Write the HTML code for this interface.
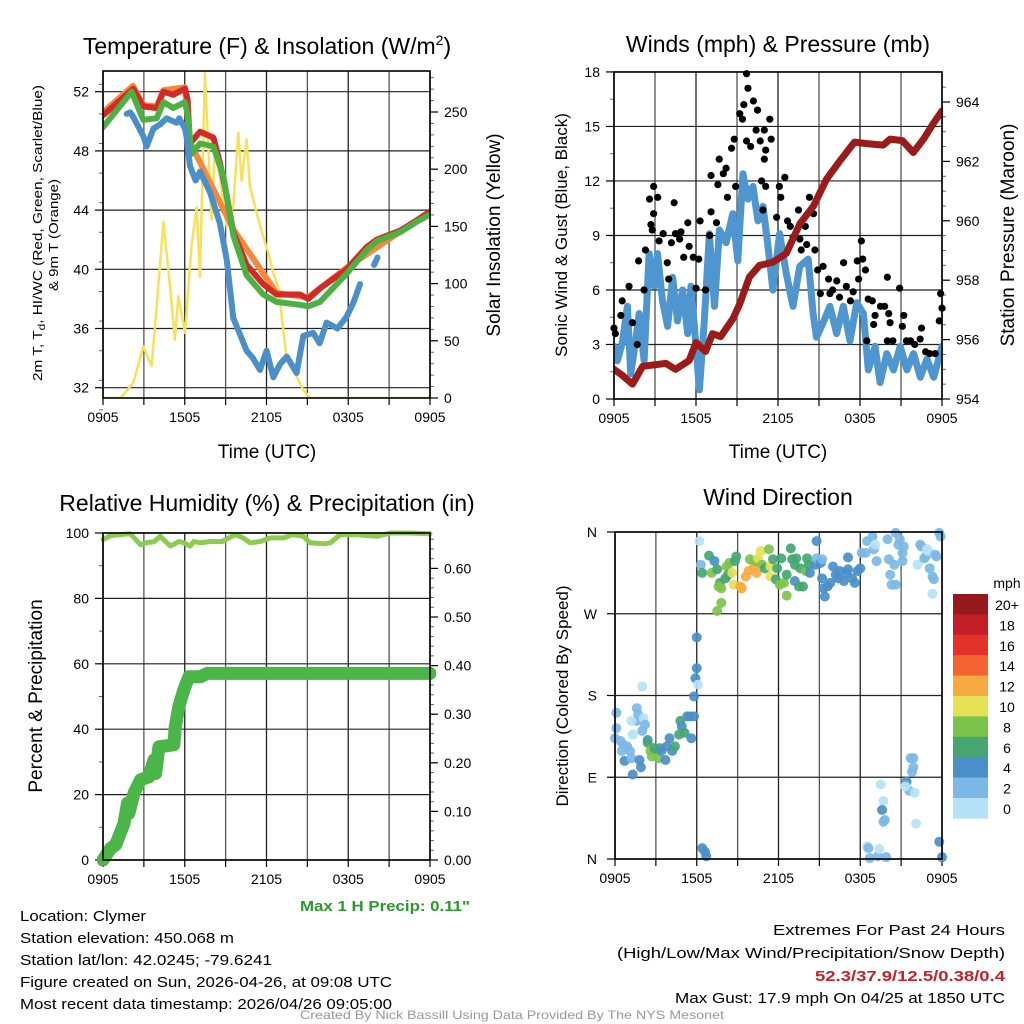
<!DOCTYPE html>
<html><head><meta charset="utf-8"><style>
html,body{margin:0;padding:0;background:#fff;}
svg{display:block;font-family:"Liberation Sans",Arial,sans-serif;}
</style></head><body>
<svg id="chart" width="1024" height="1024" viewBox="0 0 1024 1024" xmlns="http://www.w3.org/2000/svg">
<rect width="1024" height="1024" fill="#fff"/>
<defs>
<clipPath id="c1"><rect x="103" y="71" width="327" height="327"/></clipPath>
<clipPath id="c2"><rect x="614" y="66" width="328" height="337"/></clipPath>
<clipPath id="c3"><rect x="97" y="527" width="339" height="339"/></clipPath>
</defs>
<g id="texts" font-size="15" fill="#000">
<text x="267" y="54" font-size="23" text-anchor="middle">Temperature (F) &amp; Insolation (W/m<tspan dy="-9" font-size="14">2</tspan><tspan dy="9">)</tspan></text>
<text x="778" y="52" font-size="23" text-anchor="middle">Winds (mph) &amp; Pressure (mb)</text>
<text x="267" y="511" font-size="23" text-anchor="middle">Relative Humidity (%) &amp; Precipitation (in)</text>
<text x="778" y="505" font-size="23" text-anchor="middle">Wind Direction</text>
<text x="267" y="458" font-size="19" text-anchor="middle">Time (UTC)</text>
<text x="778" y="458" font-size="19" text-anchor="middle">Time (UTC)</text>
<text transform="translate(42,233) rotate(-90)" font-size="13" text-anchor="middle" textLength="296" lengthAdjust="spacingAndGlyphs">2m T, T<tspan dy="3" font-size="10">d</tspan><tspan dy="-3">, HI/WC (Red, Green, Scarlet/Blue)</tspan></text>
<text transform="translate(58,235) rotate(-90)" font-size="13" text-anchor="middle" textLength="112" lengthAdjust="spacingAndGlyphs">&amp; 9m T (Orange)</text>
<text transform="translate(500,235) rotate(-90)" font-size="19" text-anchor="middle">Solar Insolation (Yellow)</text>
<text transform="translate(567,235) rotate(-90)" font-size="17" text-anchor="middle">Sonic Wind &amp; Gust (Blue, Black)</text>
<text transform="translate(1014,235) rotate(-90)" font-size="19" text-anchor="middle">Station Pressure (Maroon)</text>
<text transform="translate(42,696) rotate(-90)" font-size="19" text-anchor="middle">Percent &amp; Precipitation</text>
<text transform="translate(568,696) rotate(-90)" font-size="17" text-anchor="middle">Direction (Colored By Speed)</text>
<text x="470" y="911" font-size="15" font-weight="bold" fill="#2a9a2a" text-anchor="end" textLength="170" lengthAdjust="spacingAndGlyphs">Max 1 H Precip: 0.11"</text>
<text x="20" y="921" textLength="126" lengthAdjust="spacingAndGlyphs">Location: Clymer</text>
<text x="20" y="943" textLength="214" lengthAdjust="spacingAndGlyphs">Station elevation: 450.068 m</text>
<text x="20" y="965" textLength="252" lengthAdjust="spacingAndGlyphs">Station lat/lon: 42.0245; -79.6241</text>
<text x="20" y="987" textLength="372" lengthAdjust="spacingAndGlyphs">Figure created on Sun, 2026-04-26, at 09:08 UTC</text>
<text x="20" y="1009" textLength="372" lengthAdjust="spacingAndGlyphs">Most recent data timestamp: 2026/04/26 09:05:00</text>
<text x="1005" y="935" text-anchor="end" textLength="232" lengthAdjust="spacingAndGlyphs">Extremes For Past 24 Hours</text>
<text x="1005" y="958" text-anchor="end" textLength="388" lengthAdjust="spacingAndGlyphs">(High/Low/Max Wind/Precipitation/Snow Depth)</text>
<text x="1005" y="981" text-anchor="end" font-weight="bold" fill="#c8202a" textLength="190" lengthAdjust="spacingAndGlyphs">52.3/37.9/12.5/0.38/0.4</text>
<text x="1005" y="1003" text-anchor="end" textLength="330" lengthAdjust="spacingAndGlyphs">Max Gust: 17.9 mph On 04/25 at 1850 UTC</text>
<text x="512" y="1019" font-size="12" fill="#999" text-anchor="middle" textLength="424" lengthAdjust="spacingAndGlyphs">Created By Nick Bassill Using Data Provided By The NYS Mesonet</text>
</g>
</svg>
<script>
// ---------- DATA ----------
const xTickLabels = ["0905","1505","2105","0305","0905"];
const tempRedH = [0,2.22,2.96,3.94,4.43,5.16,6.02,6.2,6.38,7.12,8.1,8.58,9.07,9.56,10.54,11.76,12.74,14.45,15.06,15.92,17.88,19.35,20.08,21.79,23.0,24];
const tempRedV = [50.4,52.2,51,50.9,52,51.8,52.2,51.5,48.5,49.3,48.9,47.2,45,42.5,40.3,39,38.3,38.3,38.0,38.7,40,41.5,42,42.6,43.3,43.9];
const tempOrangeH = [0,2.2,2.96,3.94,4.43,6.02,6.38,9.56,12.74,15.06,17.88,24];
const tempOrangeV = [50.6,52.4,51.1,51.0,52.1,52.3,48.6,42.7,38.4,38.1,40.1,43.9];
const tempGreenH = [0,2.1,2.96,3.94,4.43,5.16,6.02,6.2,6.5,7.12,8.1,8.83,9.56,10.54,11.76,12.74,14.45,15.06,15.92,17.88,19.35,20.08,21.79,23.0,24];
const tempGreenV = [49.6,52,50.1,50.2,51.3,50.9,51.3,50.5,47.8,48.5,48.3,46.3,42.3,39.6,38.3,37.8,37.6,37.5,37.8,39.7,41.3,41.9,42.5,43.2,43.7];
const dewH = [1.74,2.0,2.22,2.96,3.2,3.7,4.2,4.67,5.4,5.6,6.02,6.14,6.38,6.8,7.12,7.85,8.58,9.07,9.56,10.1,10.54,11.0,11.52,12.01,12.5,13.0,13.48,14.21,14.7,15.43,15.9,16.41,17.2,17.88,18.4,18.86];
const dewV = [50.5,50.6,50.3,49,48.3,49.5,49.8,50.2,49.9,50.2,49.5,48.9,47,46.0,46.6,45.2,43.1,40.7,36.7,35.5,34.5,34.0,33.2,34.5,32.7,33.6,34.1,33,35.5,35.7,35.0,36.4,36.0,36.8,37.8,39];
const dew2H = [19.9,20.15];
const dew2V = [40.3,40.8];
const solarH = [0,1.3,1.49,2.22,2.96,3.57,3.94,4.43,4.92,5.28,5.53,6.02,6.5,6.87,7.12,7.48,7.73,7.97,8.2,8.58,9.07,9.56,9.93,10.17,10.54,10.78,11.27,11.76,12.13,12.5,12.86,13.48,13.96,14.7,15.19,24];
const solarV = [0,0,3,13,45,28,80,154,98,51,89,57,133,167,106,284,220,156,215,194,150,168,232,190,226,185,162,141,127,109,98,34,25,7,0,0];

const windH = [0,0.24,0.61,0.98,1.22,1.59,1.84,2.2,2.57,2.94,3.18,3.55,3.92,4.29,4.65,5.02,5.39,5.63,5.88,6.25,6.61,6.98,7.35,7.71,8.2,8.69,9.06,9.43,9.8,10.16,10.53,10.9,11.27,11.63,12.12,12.61,13.1,13.59,14.21,14.57,14.82,15.31,15.8,16.29,16.78,17.27,17.76,18.25,18.61,19.1,19.47,19.96,20.45,20.94,21.43,21.92,22.41,22.9,23.39,24];
const windV = [2.9,2.1,3.1,5.1,1.4,3.2,4.7,2.1,8.0,6.2,8,5.4,4.0,6.7,4.3,6,3.6,6.2,4,0.5,4.3,9.1,5.1,9.3,8.6,10.2,7.6,12.4,11,11.7,9.8,10.6,8.4,6,9.1,6.9,5.1,7.3,7.7,4.7,3.4,4.2,5.1,3.6,5.1,3.2,5.3,4.7,1.6,2.9,0.9,2.5,1.6,2.9,1.6,2.5,1.2,2.2,1.2,2.9];
const gustH = [0,0.1,0.6,0.5,1.1,1.35,1.7,1.8,2.2,2.3,2.6,2.9,3.2,2.9,2.7,2.8,3.3,3.6,3.9,4.0,4.2,4.4,4.5,4.8,4.9,5.1,5.4,5.5,5.8,6.0,6.2,6.3,6.7,7.0,7.1,7.5,7.6,7.1,7.7,8.0,8.2,8.6,8.3,8.8,8.9,9.2,9.4,9.5,9.8,9.7,9.7,10.0,10.2,10.4,10.5,10.7,11.0,11.4,11.1,11.0,10.8,11.1,11.5,10.9,11.9,12.1,12.2,12.5,12.7,12.9,13.1,13.5,13.6,13.7,14.0,14.3,14.1,14.6,14.7,14.9,15.1,15.3,15.7,15.8,16.0,16.3,16.5,16.8,17.0,17.3,17.5,17.8,17.9,18.1,18.2,18.4,18.6,18.9,19.0,19.1,19.5,19.8,20.0,20.1,20.2,20.4,20.9,21.1,21.2,21.4,21.7,22.0,22.4,22.5,22.8,23.1,23.5,23.8,23.9,24.0,20.0,18.5];
const gustV = [3.9,3.6,5.4,4.6,6.2,4.2,3.0,7.6,6.0,8.2,11.0,11.7,11.1,10.2,9.6,9.3,8.7,9.1,7.5,6.6,8.6,10.8,9.1,8.8,9.2,7.8,9.7,8.4,7.8,6.1,7.7,9.8,6.0,9.0,10.3,9.7,11.8,12.3,13.2,12.4,12.7,13.8,11.1,14.3,11.7,15.7,15.4,16.2,17.1,17.9,14.2,13.9,16.4,14.8,15.9,14.2,14.8,15.4,13.7,13.2,12.0,11.7,14.3,10.4,10.0,11.7,11.1,12.2,9.8,9.5,8.9,10.4,8.8,8.2,9.5,11.1,8.5,10.2,8.2,7.1,5.8,7.3,6.6,5.8,6.0,6.5,5.6,7.5,6.2,5.4,5.9,7.6,6.6,8.7,7.7,7.1,5.5,5.4,4.1,4.6,5.1,5.1,6.7,4.7,4.2,3.2,6.1,4.0,4.6,3.2,3.2,3.0,3.3,3.9,2.6,2.5,2.5,4.3,5.8,5.0,3.2,3.2];
const presH = [0,0.6,1.35,2.1,3.8,4.5,5.5,6,6.7,7.2,7.8,8.7,9.2,9.9,10.65,11.6,12.6,13.6,14.6,15.55,16.5,17.6,18.5,19.7,20.2,21.1,21.9,22.65,23.4,24];
const presV = [955.0,954.8,954.5,955.1,955.2,955.0,955.3,955.9,955.6,956.2,956.1,956.7,957.2,958.1,958.5,958.6,958.9,959.9,960.5,961.4,962.0,962.65,962.6,962.55,962.75,962.7,962.3,962.75,963.3,963.7];

const rhH = [0,0.56,2.0,2.76,3.25,3.74,4.2,4.95,5.57,5.93,6.4,6.66,7.15,7.9,8.74,9.7,10.3,10.8,11.55,12.3,13.26,13.9,14.7,15.2,16.2,16.7,17.4,18.6,20.1,21.1,22.5,24];
const rhV = [98,99.2,99.8,96.4,97.1,97.3,99,96,97.4,97,96,97.4,97,97.4,97.4,99.5,98.5,97,97.4,98.5,98.5,99.5,99,97,96.7,97,99.5,99.5,99,100,100,99.8];
const precipH = [0,0.56,0.93,1.54,1.8,1.9,2.27,2.76,3.37,3.74,3.86,4.1,5.2,5.3,5.57,5.93,6.3,7.15,7.64,24];
const precipV = [0,0.024,0.031,0.075,0.117,0.096,0.137,0.165,0.171,0.206,0.178,0.233,0.237,0.274,0.316,0.35,0.377,0.377,0.384,0.384];

const dirH = [0.1,0.1,0.0,0.4,0.6,0.9,0.5,1.1,0.7,1.3,1.2,1.6,1.7,1.6,2.1,1.3,1.2,2.0,2.2,2.0,1.8,1.9,2.4,2.4,2.6,2.7,2.9,3.2,3.3,3.4,3.7,3.8,4.0,4.2,4.4,4.7,4.8,4.9,5.1,5.3,5.5,5.6,5.8,5.8,5.9,6.0,6.0,6.1,
6.4,6.6,6.7,
6.2,6.3,6.4,6.9,7.3,7.1,7.5,7.7,7.6,7.8,7.8,7.5,8.1,8.2,8.4,8.3,8.6,8.7,8.8,8.9,9.2,9.3,9.6,9.8,10.2,10.4,9.9,10.3,10.5,10.7,10.8,11.0,11.3,11.4,11.4,11.6,11.8,11.9,12.2,12.1,12.4,12.6,12.6,12.9,13.0,13.2,13.2,13.3,13.6,13.5,13.8,14.0,14.2,14.1,14.3,14.7,14.8,14.8,15.1,15.2,15.2,15.3,15.4,15.6,15.8,16.0,16.2,16.4,16.5,16.8,17.0,17.1,17.4,17.6,17.8,18.0,17.1,18.1,18.4,18.5,18.9,19.0,19.1,19.2,20.0,20.1,20.2,20.3,20.6,20.5,20.6,20.8,20.9,21.1,21.1,21.2,22.2,22.4,22.5,22.7,22.8,22.9,23.0,23.1,23.3,23.4,23.3,23.6,23.8,23.9,23.5,
19.5,19.7,19.6,19.8,19.7,18.5,18.6,18.7,19.3,19.4,19.9,21.7,21.9,21.9,21.8,21.4,21.6,22.0,21.3,22.1,23.8,24.0];
const dirDeg = [161,144,133,130,126,124,119,119,108,93,111,166,159,152,155,137,152,141,148,190,109,101,131,128,119,113,122,111,122,119,109,124,133,119,124,137,152,146,139,157,157,133,157,179,199,210,244,192,
12,8,3,
350,324,315,334,328,315,319,304,300,298,282,273,309,322,326,313,315,302,328,333,300,298,311,317,322,315,330,328,331,339,324,320,341,322,311,330,308,320,331,302,304,290,313,342,330,324,306,331,320,300,300,317,324,331,315,324,331,350,326,330,309,298,289,300,304,322,313,309,317,306,315,319,309,304,317,320,332,337,337,350,355,341,346,328,352,330,313,302,302,324,359,346,352,337,328,344,324,346,344,331,333,341,339,320,311,308,292,333,359,355,335,
82,64,54,43,41,14,12,1,3,11,2,111,111,101,96,85,75,73,80,39,19,2];
const dirSpeed = [3,3,3,3,3,3,3,3,5,5,3,3,3,3,1,1,1,3,3,1,5,5,5,7,9,9,7,9,7,5,5,5,5,5,7,7,7,5,7,5,5,5,5,5,5,5,5,1,
5,5,5,
1,3,7,7,5,9,7,7,9,9,9,9,7,9,9,7,11,11,7,7,13,13,13,13,13,13,9,9,11,11,9,7,9,11,11,7,7,7,7,9,9,9,7,7,7,7,5,7,7,7,7,9,7,7,5,5,3,5,5,3,5,5,5,5,5,5,5,5,5,5,5,5,5,5,5,5,5,3,3,3,3,3,1,3,3,3,3,3,3,3,3,3,3,3,3,3,1,3,3,3,3,1,1,3,3,3,1,3,3,3,3,
1,1,5,3,3,1,3,3,3,1,3,3,3,3,3,5,3,1,1,1,5,5];
const speedBinLabels = ["0","2","4","6","8","10","12","14","16","18","20+"];
const speedBinColors = ["#b6e2f7","#7cb9e6","#4a8fc8","#46a672","#7cc34b","#e6e157","#f8a940","#f26430","#e2322a","#c21f26","#961a1c"];

// ---------- RENDER ----------
const NS="http://www.w3.org/2000/svg";
const svg=document.getElementById('chart');
function mk(tag,attrs,parent){const e=document.createElementNS(NS,tag);for(const k in attrs)e.setAttribute(k,attrs[k]);(parent||svg).appendChild(e);return e;}
const P1={x0:103,x1:430,y0:71,y1:398}, P2={x0:614,x1:942,y0:72,y1:399}, P3={x0:103,x1:430,y0:533,y1:860}, P4={x0:615,x1:942,y0:532,y1:859};
function hx(P,h){return P.x0+h*(P.x1-P.x0)/24;}
const yTemp=v=>387.7-(v-32)*14.8;
const ySolar=v=>398-v*1.144;
const yMph=v=>399-v*18.17;
const yMb=v=>399-(v-954)*29.7;
const yPct=v=>860-v*3.27;
const yIn=v=>860-v*486;
const yDeg=v=>859-v*327/360;

function frame(P,name){
  const g=mk('g',{});
  
  
  for(let i=0;i<=8;i++){const x=P.x0+i*(P.x1-P.x0)/8;
    const l=mk('line',{x1:x,x2:x,y1:P.y0,y2:P.y1,stroke:(i%2? '#555':'#222'),'stroke-width':1.3},g);
    
    const t=mk('line',{x1:x,x2:x,y1:P.y1,y2:P.y1+7,stroke:'#000','stroke-width':1.2},g);
    
  }
  xTickLabels.forEach((lab,i)=>{const x=P.x0+i*(P.x1-P.x0)/4;
    const t=mk('text',{x:x,y:P.y1+24,'font-size':14,'text-anchor':'middle'});t.textContent=lab;
    });
  return g;
}
function hgrid(yvals,P){yvals.forEach(y=>{const l=mk('line',{x1:P.x0,x2:P.x1,y1:y,y2:y,stroke:'#222','stroke-width':1.2});
  });}
function yAxis(P,side,vals,fy,fmt,minor,fyMinorVals){
  const x=side==='left'?P.x0:P.x1, d=side==='left'?-1:1;
  (fyMinorVals||[]).forEach(v=>{const y=fy(v);const l=mk('line',{x1:x,x2:x+d*4,y1:y,y2:y,stroke:'#666','stroke-width':1});
    });
  vals.forEach(v=>{const y=fy(v);
    const l=mk('line',{x1:x,x2:x+d*8,y1:y,y2:y,stroke:'#000','stroke-width':1.2});
    
    const t=mk('text',{x:x+d*14,y:y+5,'font-size':14,'text-anchor':side==='left'?'end':'start'});t.textContent=fmt(v);
    });
}
function box(P){const r=mk('rect',{x:P.x0,y:P.y0,width:P.x1-P.x0,height:P.y1-P.y0,fill:'none',stroke:'#000','stroke-width':1.6});
  }
function line(P,H,V,fy,color,w,name,clip){
  const d=H.map((h,i)=>(i?'L':'M')+hx(P,h).toFixed(1)+','+fy(V[i]).toFixed(1)).join('');
  const p=mk('path',{d:d,fill:'none',stroke:color,'stroke-width':w,'stroke-linejoin':'round','stroke-linecap':'round'});
  if(clip)p.setAttribute('clip-path','url(#'+clip+')');
  return p;}
function range(a,b,s){const r=[];for(let v=a;v<=b+1e-9;v+=s)r.push(+v.toFixed(4));return r;}

// Panel 1
frame(P1,'temp');
hgrid([52,48,44,40,36,32].map(yTemp),P1);
yAxis(P1,'left',[32,36,40,44,48,52],yTemp,v=>v,0,range(30.5,53,2));
yAxis(P1,'right',[0,50,100,150,200,250],ySolar,v=>v,0,range(0,280,10));
line(P1,solarH,solarV,ySolar,'#f7e15a',2.5,'solar-insolation-line','c1');
line(P1,tempOrangeH,tempOrangeV,yTemp,'#f5883a',6,'temp-9m-line','c1');
line(P1,tempRedH,tempRedV,yTemp,'#d42a27',6,'temp-2m-line','c1');
line(P1,tempGreenH,tempGreenV,yTemp,'#4db043',6,'heat-index-windchill-line','c1');
line(P1,dewH,dewV,yTemp,'#4a8fc8',6,'dewpoint-line','c1');
line(P1,dew2H,dew2V,yTemp,'#4a8fc8',6,'dewpoint-line-segment','c1');
box(P1);

// Panel 2
frame(P2,'wind');
hgrid([0,3,6,9,12,15,18].map(yMph),P2);
yAxis(P2,'left',[0,3,6,9,12,15,18],yMph,v=>v,0,range(1.5,16.5,3));
yAxis(P2,'right',[954,956,958,960,962,964],yMb,v=>v,0,range(954,964.5,0.5));
line(P2,windH,windV,yMph,'#4f95cf',7,'sonic-wind-line','c2');
gustH.forEach((h,i)=>{const c=mk('circle',{cx:hx(P2,h),cy:yMph(gustV[i]),r:3.6,fill:'#000'});
  });
line(P2,presH,presV,yMb,'#9b1b1b',7,'station-pressure-line','c2');
box(P2);

// Panel 3
frame(P3,'rh');
hgrid([0,20,40,60,80,100].map(yPct),P3);
yAxis(P3,'left',[0,20,40,60,80,100],yPct,v=>v,0,range(10,90,20));
yAxis(P3,'right',[0,0.1,0.2,0.3,0.4,0.5,0.6],yIn,v=>v.toFixed(2),0,range(0,0.66,0.02));
line(P3,rhH,rhV,yPct,'#8dcc50',5,'relative-humidity-line','c3');
line(P3,precipH,precipV,yIn,'#4ab648',13,'precipitation-line','c3');
box(P3);

// Panel 4
frame(P4,'winddir');
hgrid([0,90,180,270,360].map(yDeg),P4);
['N','E','S','W','N'].forEach((lab,i)=>{const y=yDeg(i*90);
  const l=mk('line',{x1:P4.x0,x2:P4.x0-8,y1:y,y2:y,stroke:'#000','stroke-width':1.2});
  
  const t=mk('text',{x:P4.x0-18,y:y+5,'font-size':14,'text-anchor':'end'});t.textContent=lab;
  });
dirH.forEach((h,i)=>{const bin=Math.min(10,Math.floor(dirSpeed[i]/2));
  const c=mk('circle',{cx:hx(P4,h),cy:yDeg(dirDeg[i]),r:5,fill:speedBinColors[bin],'fill-opacity':0.92});
  });
box(P4);

// Colorbar
const cb=mk('g',{});


const cbTop=594, cbH=20.4;
const unit=mk('text',{x:1007,y:588,'font-size':14,'text-anchor':'middle'},cb);unit.textContent='mph';

speedBinLabels.forEach((lab,i)=>{const k=10-i;const y=cbTop+i*cbH;
  const r=mk('rect',{x:953,y:y,width:35,height:cbH+0.3,fill:speedBinColors[k]},cb);
  
  const t=mk('text',{x:1007,y:y+16,'font-size':14,'text-anchor':'middle'},cb);t.textContent=speedBinLabels[k];
  });
</script>
</body></html>
